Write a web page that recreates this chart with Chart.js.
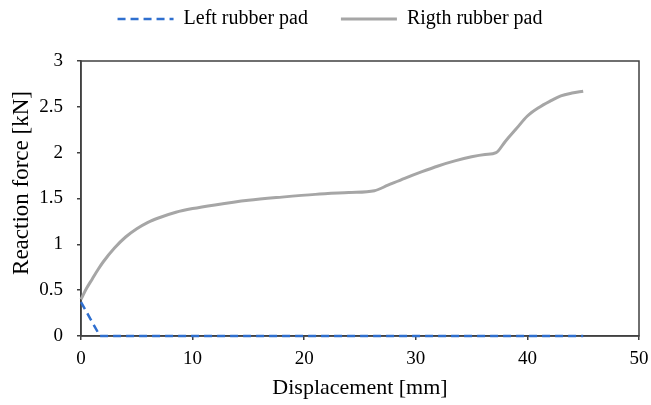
<!DOCTYPE html>
<html><head><meta charset="utf-8">
<script src="https://cdn.jsdelivr.net/npm/chart.js@4"></script>
<style>html,body{margin:0;padding:0;background:#fff}#wrap{width:651px;height:405px}</style>
</head><body><div id="wrap"><canvas id="c" width="651" height="405"></canvas></div>
<script>
const xTicks = [0, 10, 20, 30, 40, 50];
const yTicks = [0, 0.5, 1, 1.5, 2, 2.5, 3];
const leftX = [0, 0.85, 1.7, 5, 10, 20, 30, 40, 45];
const leftY = [0.37, 0.185, 0, 0, 0, 0, 0, 0, 0];
const rightX = [0, 0.5, 1, 1.5, 2, 3, 4, 5, 6, 7, 8.5, 10, 12, 15, 18, 21, 24, 26.3, 27.5, 29, 30.5, 32, 33.5, 35, 36.2, 37.2, 38, 39, 40, 41, 42, 43, 44, 45];
const rightY = [0.40, 0.52, 0.62, 0.72, 0.81, 0.96, 1.08, 1.17, 1.24, 1.29, 1.35, 1.39, 1.43, 1.48, 1.515, 1.545, 1.565, 1.585, 1.645, 1.72, 1.79, 1.855, 1.91, 1.955, 1.98, 2.0, 2.12, 2.26, 2.40, 2.49, 2.56, 2.62, 2.65, 2.67];
const yTitle = 'Reaction force [kN]';
const xTitle = 'Displacement [mm]';

const toPts = (xs, ys) => xs.map((x, i) => ({x, y: ys[i]}));
const F = "'Liberation Serif', 'Times New Roman', serif";

const frame = {
  id: 'frame',
  beforeDatasetsDraw(chart) {
    const a = chart.chartArea, ctx = chart.ctx;
    ctx.save();
    ctx.strokeStyle = '#404040';
    ctx.lineWidth = 1.5;
    ctx.strokeRect(a.left, a.top, a.right - a.left, a.bottom - a.top);
    ctx.restore();
  },
  afterDraw(chart) {
    const ctx = chart.ctx;
    ctx.save();
    ctx.translate(22, 183);
    ctx.rotate(-Math.PI / 2);
    ctx.font = "23px " + F;
    ctx.fillStyle = '#000';
    ctx.textAlign = 'center';
    ctx.textBaseline = 'middle';
    ctx.fillText(yTitle, 0, 0);
    ctx.restore();
  }
};

const legendPos = {
  id: 'legendPos',
  beforeLayout(chart) {
    const lg = chart.legend;
    if (lg && !lg._patched) {
      const orig = lg.fit.bind(lg);
      lg.fit = function () { orig(); this.height = 61; };
      lg._patched = true;
    }
  },
  afterLayout(chart) {
    const lg = chart.legend;
    if (lg) { lg.top = -24; lg.left = 21; }
  }
};

new Chart(document.getElementById('c'), {
  type: 'line',
  data: {
    datasets: [
      {label: 'Left rubber pad', data: toPts(leftX, leftY), borderColor: '#2f6fcf', borderWidth: 2.5, borderDash: [8, 5], pointRadius: 0, tension: 0, fill: false, clip: false},
      {label: 'Rigth rubber pad', data: toPts(rightX, rightY), borderColor: '#a6a6a6', borderWidth: 3, pointRadius: 0, cubicInterpolationMode: 'monotone', fill: false, clip: false}
    ]
  },
  options: {
    responsive: false,
    animation: false,
    layout: {padding: {top: 0, right: 12, left: 0, bottom: 0}},
    plugins: {
      legend: {
        position: 'top',
        labels: {
          usePointStyle: true, pointStyle: 'line', pointStyleWidth: 56, boxHeight: 20, padding: 33,
          color: '#000', font: {family: F, size: 20},
          generateLabels: chart => Chart.defaults.plugins.legend.labels.generateLabels(chart).map(l => {
            const ds = chart.data.datasets[l.datasetIndex];
            l.lineDash = ds.borderDash || [];
            l.lineWidth = ds.borderWidth;
            l.strokeStyle = ds.borderColor;
            l.fillStyle = ds.borderColor;
            return l;
          })
        }
      },
      tooltip: {enabled: false}
    },
    scales: {
      x: {
        type: 'linear', min: 0, max: 50,
        afterBuildTicks: s => { s.ticks = xTicks.map(v => ({value: v})); },
        afterFit: s => { s.height = 69; s.paddingRight = 0; s.paddingLeft = 0; },
        grid: {drawOnChartArea: false, drawTicks: true, tickLength: 4, color: '#404040', lineWidth: 1.5},
        border: {display: true, color: '#404040', width: 1.5},
        ticks: {color: '#000', font: {family: F, size: 19}, padding: 8, maxRotation: 0, callback: v => String(v)},
        title: {display: true, text: xTitle, color: '#000', font: {family: F, size: 22}, padding: {top: 0, bottom: 4}}
      },
      y: {
        type: 'linear', min: 0, max: 3,
        afterBuildTicks: s => { s.ticks = yTicks.map(v => ({value: v})); },
        afterFit: s => { s.width = 81; s.paddingTop = 0; s.paddingBottom = 0; },
        grid: {drawOnChartArea: false, drawTicks: true, tickLength: 4, color: '#404040', lineWidth: 1.5},
        border: {display: true, color: '#404040', width: 1.5},
        ticks: {color: '#000', font: {family: F, size: 19}, padding: 14, callback: v => String(v)},
        title: {display: false}
      }
    }
  },
  plugins: [frame, legendPos]
});
</script></body></html>
